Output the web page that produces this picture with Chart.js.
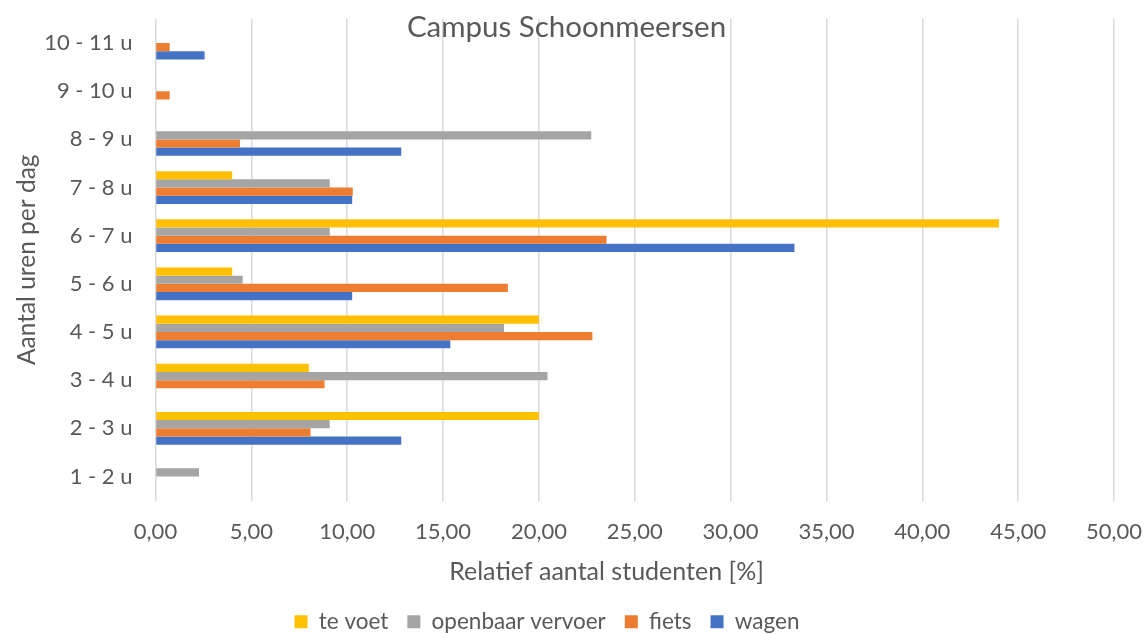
<!DOCTYPE html>
<html>
<head>
<meta charset="utf-8">
<script src="https://cdn.jsdelivr.net/npm/chart.js@4.4.0/dist/chart.umd.min.js"></script>
<style>
  html, body { margin: 0; padding: 0; background: #fff; }
</style>
</head>
<body>
<canvas id="chart" width="1145" height="634"></canvas>
<script>
const categories = ['1 - 2 u', '2 - 3 u', '3 - 4 u', '4 - 5 u', '5 - 6 u', '6 - 7 u', '7 - 8 u', '8 - 9 u', '9 - 10 u', '10 - 11 u'];
const teVoet = [0, 20, 8, 20, 4, 44, 4, 0, 0, 0];
const openbaarVervoer = [2.27, 9.09, 20.45, 18.18, 4.55, 9.09, 9.09, 22.73, 0, 0];
const fiets = [0, 8.09, 8.82, 22.79, 18.38, 23.53, 10.29, 4.41, 0.74, 0.74];
const wagen = [0, 12.82, 0, 15.38, 10.26, 33.33, 10.26, 12.82, 0, 2.56];
const xMin = 0, xMax = 50, xStep = 5;

const textColor = '#595959';
const fontName = 'Lato';

// chart title sits on top of the plot, x-axis title is a bit left of the plot centre (like Excel)
const titlesPlugin = {
  id: 'excelTitles',
  afterDraw(chart) {
    const ctx = chart.ctx;
    const xs = chart.scales.x;
    ctx.save();
    ctx.fillStyle = textColor;
    ctx.textAlign = 'center';
    ctx.textBaseline = 'middle';
    ctx.font = '29.5px ' + fontName;
    ctx.fillText('Campus Schoonmeersen', chart.width / 2 - 6, 27);
    ctx.font = '25px ' + fontName;
    ctx.fillText('Relatief aantal studenten [%]', chart.width / 2 + 34, xs.bottom - 20);
    ctx.restore();
  }
};

new Chart(document.getElementById('chart').getContext('2d'), {
  type: 'bar',
  data: {
    labels: categories,
    datasets: [
      { label: 'te voet', data: teVoet, backgroundColor: '#FFC000' },
      { label: 'openbaar vervoer', data: openbaarVervoer, backgroundColor: '#A5A5A5' },
      { label: 'fiets', data: fiets, backgroundColor: '#ED7D31' },
      { label: 'wagen', data: wagen, backgroundColor: '#4472C4' }
    ]
  },
  options: {
    indexAxis: 'y',
    responsive: false,
    animation: false,
    categoryPercentage: 0.68,
    barPercentage: 1.0,
    layout: { padding: { top: 19, right: 31, left: -20, bottom: -9 } },
    scales: {
      x: {
        min: xMin, max: xMax,
        afterFit: s => { s.height = 91; s.paddingLeft = 0; s.paddingRight = 0; },
        ticks: {
          stepSize: xStep,
          color: textColor,
          font: { family: fontName, size: 22 },
          padding: 18,
          callback: v => v.toFixed(2).replace('.', ',')
        },
        grid: { color: '#d9d9d9', lineWidth: 1.5, drawTicks: false },
        border: { display: false }
      },
      y: {
        reverse: true,
        afterFit: s => { s.width = 175.5; s.paddingTop = 0; s.paddingBottom = 0; },
        ticks: {
          color: textColor,
          font: { family: fontName, size: 22 },
          padding: 23
        },
        grid: { display: false, drawTicks: false },
        border: { display: false },
        title: {
          display: true,
          text: 'Aantal uren per dag',
          color: textColor,
          font: { family: fontName, size: 24.5 },
          padding: { top: 32, bottom: 0 }
        }
      }
    },
    plugins: {
      legend: {
        position: 'bottom',
        labels: {
          color: textColor,
          font: { family: fontName, size: 22.5 },
          boxWidth: 13,
          boxHeight: 13,
          padding: 19
        }
      },
      tooltip: { enabled: false }
    }
  },
  plugins: [titlesPlugin]
});
</script>
</body>
</html>
